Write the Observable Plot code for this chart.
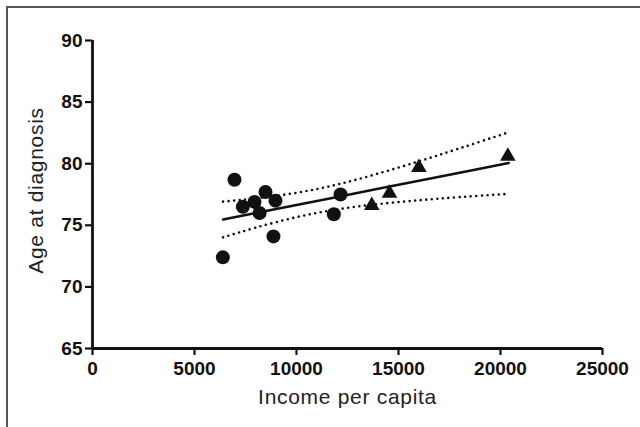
<!DOCTYPE html>
<html>
<head>
<meta charset="utf-8">
<script src="https://cdn.jsdelivr.net/npm/d3@7"></script>
<script src="https://cdn.jsdelivr.net/npm/@observablehq/plot@0.6"></script>
<style>
  html, body { margin: 0; padding: 0; background: #fff; }
  #wrap { position: relative; width: 640px; height: 427px; overflow: hidden; }
  #border { position: absolute; left: 6px; top: 6px; width: 700px; height: 500px;
            border-top: 2px solid #555; border-left: 2px solid #555; pointer-events: none; }
</style>
</head>
<body>
<div id="wrap"><div id="border"></div></div>
<script>
// Group 1 (circles)
const circleIncome = [6390, 6960, 7370, 7940, 8190, 8480, 8870, 8970, 11830, 12160];
const circleAge    = [72.4, 78.7, 76.5, 76.9, 76.0, 77.7, 74.1, 77.0, 75.9, 77.5];
// Group 2 (triangles)
const triIncome = [13690, 14560, 16000, 20360];
const triAge    = [76.6, 77.6, 79.7, 80.6];
// Regression fit and confidence band
const fitIncome = [6400, 8000, 10000, 12000, 14000, 16000, 18000, 20400];
const fitAge    = [75.47, 76.00, 76.65, 77.30, 77.96, 78.61, 79.27, 80.05];
const upperAge  = [76.92, 77.19, 77.64, 78.31, 79.20, 80.19, 81.25, 82.55];
const lowerAge  = [74.02, 74.81, 75.66, 76.29, 76.72, 77.03, 77.29, 77.55];
// Ticks and labels
const xTicks = [0, 5000, 10000, 15000, 20000, 25000];
const yTicks = [65, 70, 75, 80, 85, 90];
const xTitle = ["Income per capita"];
const yTitle = ["Age at diagnosis"];

const circles = circleIncome.map((x, i) => ({x, y: circleAge[i]}));
const tris = triIncome.map((x, i) => ({x, y: triAge[i]}));
const fit = fitIncome.map((x, i) => ({x, y: fitAge[i], up: upperAge[i], lo: lowerAge[i]}));

const chart = Plot.plot({
  width: 640,
  height: 427,
  marginLeft: 92,
  marginRight: 38,
  marginTop: 40,
  marginBottom: 79,
  style: {fontFamily: "'Liberation Sans', Arial, sans-serif", background: "transparent"},
  x: {domain: [0, 25000]},
  y: {domain: [65, 90]},
  marks: [
    Plot.axisX({ticks: xTicks, tickFormat: d => String(d), tickSize: 7, tickPadding: 6,
      fontSize: 19, fontWeight: "bold", strokeWidth: 2.2, color: "#111", label: null}),
    Plot.axisY({ticks: yTicks, tickFormat: d => String(d), tickSize: 7, tickPadding: 3,
      fontSize: 19, fontWeight: "bold", strokeWidth: 2.2, color: "#111", label: null}),
    Plot.ruleX([0], {stroke: "#111", strokeWidth: 2.8}),
    Plot.ruleY([65], {stroke: "#111", strokeWidth: 2.8}),
    Plot.line(fit, {x: "x", y: "up", stroke: "#111", strokeWidth: 2.6, strokeDasharray: "0,5.6", strokeLinecap: "round", curve: "natural"}),
    Plot.line(fit, {x: "x", y: "lo", stroke: "#111", strokeWidth: 2.6, strokeDasharray: "0,5.6", strokeLinecap: "round", curve: "natural"}),
    Plot.line(fit, {x: "x", y: "y", stroke: "#111", strokeWidth: 2.6}),
    Plot.dot(circles, {x: "x", y: "y", r: 7, fill: "#111", stroke: "none", symbol: "circle"}),
    Plot.dot(tris, {x: "x", y: "y", r: 5.8, fill: "#111", stroke: "none", symbol: "triangle"}),
    Plot.text(yTitle, {text: d => d, frameAnchor: "left", textAnchor: "middle", lineAnchor: "middle",
      rotate: -90, dx: -56, dy: -4, fontSize: 21, fill: "#222", style: "letter-spacing:0.6px"}),
    Plot.text(xTitle, {text: d => d, frameAnchor: "bottom", textAnchor: "middle", lineAnchor: "middle",
      dy: 48.5, fontSize: 21, fill: "#222"})
  ]
});
document.getElementById("wrap").appendChild(chart);
chart.style.position = "absolute";
chart.style.left = "0";
chart.style.top = "0";
chart.querySelectorAll("text").forEach(t => {
  if (t.textContent === xTitle[0] || t.textContent === yTitle[0]) t.setAttribute("letter-spacing", "0.7");
});
</script>
</body>
</html>
